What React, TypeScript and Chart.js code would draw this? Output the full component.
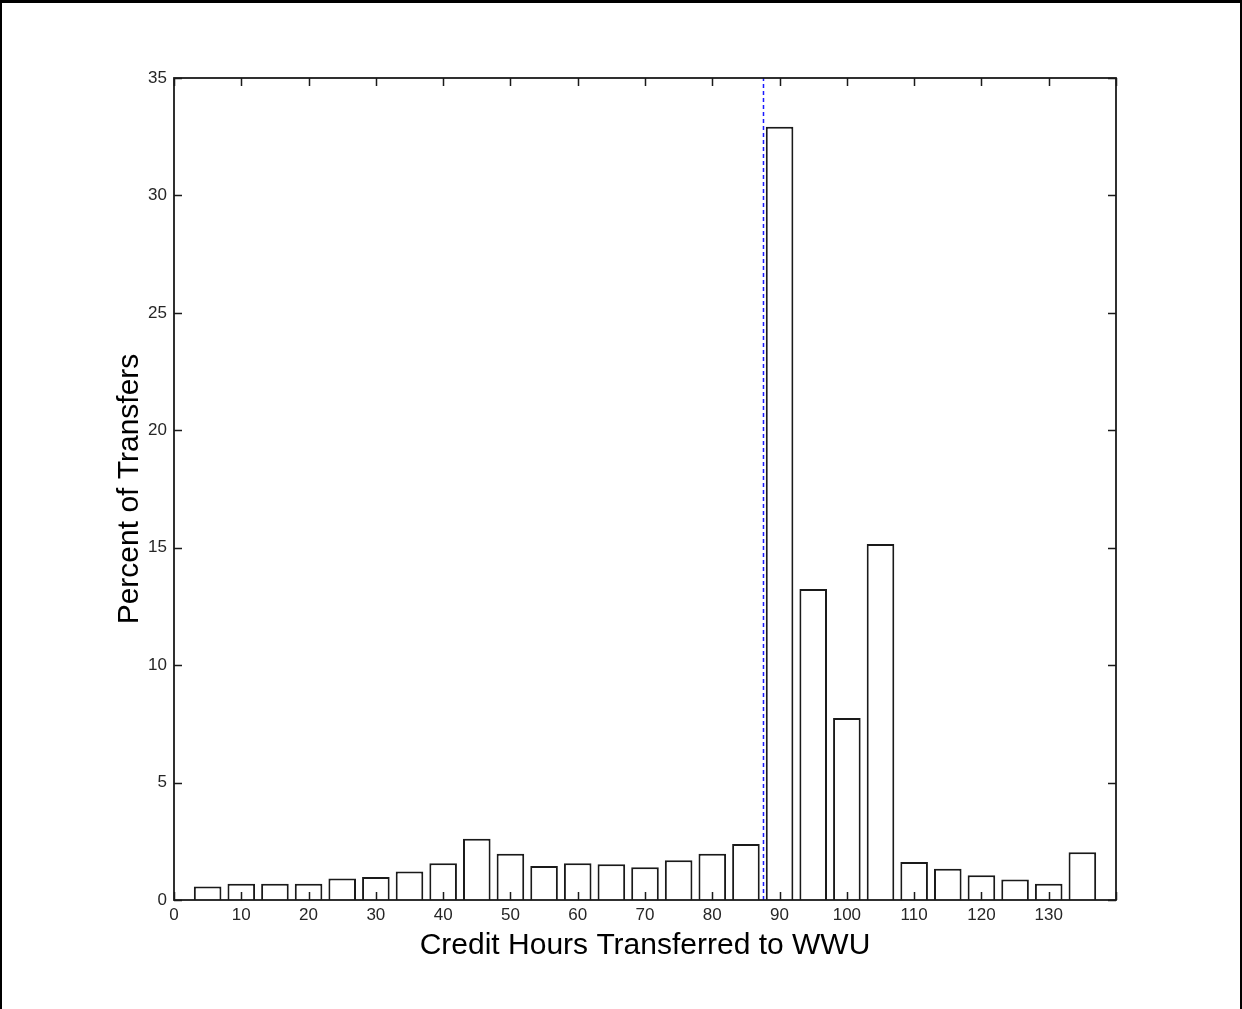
import { useEffect, useRef } from "react";
import { Chart, registerables } from "chart.js";

Chart.register(...registerables);

// Histogram bins (centre of each 5-credit bin) and share of transfers in each bin
const binCenters = [
  5, 10, 15, 20, 25, 30, 35, 40, 45, 50, 55, 60, 65, 70, 75, 80, 85, 90, 95,
  100, 105, 110, 115, 120, 125, 130, 135,
];
const percentOfTransfers = [
  0.57, 0.69, 0.69, 0.69, 0.92, 0.98, 1.21, 1.56, 2.61, 1.97, 1.45, 1.56, 1.52,
  1.39, 1.69, 1.97, 2.38, 32.92, 13.24, 7.75, 15.16, 1.62, 1.33, 1.05, 0.87,
  0.69, 2.03,
];

// Vertical reference line (credit-hour cutoff)
const cutoffHours = 87.61;

// Axis ranges and tick steps
const xRange = [0, 140];
const xTickStep = 10;
const yRange = [0, 35];
const yTickStep = 5;

const xTitle = "Credit Hours Transferred to WWU";
const yTitle = "Percent of Transfers";

const FONT = "'Liberation Sans', Arial, Helvetica, sans-serif";
const INK = "#1a1a1a";

// MATLAB-style axes: closed box with inward tick marks on all four sides
const boxAxesPlugin = {
  id: "boxAxes",
  afterDatasetsDraw(chart: any) {
    const { ctx, chartArea, scales } = chart;
    const { left, right, top, bottom } = chartArea;
    const tickLen = 8;
    ctx.save();
    ctx.strokeStyle = INK;
    ctx.lineWidth = 1.5;
    ctx.beginPath();
    for (let v = xRange[0]; v <= xRange[1]; v += xTickStep) {
      const px = Math.round(scales.x.getPixelForValue(v)) + 0.5;
      ctx.moveTo(px, bottom);
      ctx.lineTo(px, bottom - tickLen);
      ctx.moveTo(px, top);
      ctx.lineTo(px, top + tickLen);
    }
    for (let v = yRange[0]; v <= yRange[1]; v += yTickStep) {
      const py = Math.round(scales.y.getPixelForValue(v)) + 0.5;
      ctx.moveTo(left, py);
      ctx.lineTo(left + tickLen, py);
      ctx.moveTo(right, py);
      ctx.lineTo(right - tickLen, py);
    }
    ctx.stroke();
    ctx.lineWidth = 1.8;
    ctx.strokeRect(left, top, right - left, bottom - top);
    ctx.restore();
  },
};

export default function App() {
  const canvasRef = useRef<HTMLCanvasElement | null>(null);

  useEffect(() => {
    const canvas = canvasRef.current;
    if (!canvas) return;
    const chart = new Chart(canvas, {
      type: "bar",
      data: {
        datasets: [
          {
            type: "bar",
            data: binCenters.map((x, i) => ({ x, y: percentOfTransfers[i] })),
            backgroundColor: "#ffffff",
            borderColor: INK,
            borderWidth: 2,
            borderSkipped: "start",
            barPercentage: 0.82,
            categoryPercentage: 1,
          },
          {
            type: "line",
            data: [
              { x: cutoffHours, y: yRange[0] },
              { x: cutoffHours, y: yRange[1] },
            ],
            borderColor: "#1a1aff",
            borderWidth: 1.5,
            borderDash: [4, 3],
            pointRadius: 0,
            fill: false,
          },
        ],
      } as any,
      options: {
        responsive: false,
        animation: false,
        devicePixelRatio: 1,
        layout: { padding: { left: 0, top: 78, right: 126, bottom: 0 } },
        plugins: {
          legend: { display: false },
          tooltip: { enabled: false },
        },
        scales: {
          x: {
            type: "linear",
            min: xRange[0],
            max: xRange[1],
            offset: false,
            grid: { display: false, drawTicks: false },
            border: { display: false },
            ticks: {
              stepSize: xTickStep,
              autoSkip: false,
              maxRotation: 0,
              padding: 5,
              color: "#262626",
              font: { family: FONT, size: 17 },
              callback: (v: any) => (v === xRange[1] ? "" : String(v)),
            },
            title: {
              display: true,
              text: xTitle,
              color: "#000",
              font: { family: FONT, size: 30 },
              padding: { top: 0, bottom: 45 },
            },
            afterFit: (s: any) => {
              s.height = 109;
            },
          },
          y: {
            type: "linear",
            min: yRange[0],
            max: yRange[1],
            grid: { display: false, drawTicks: false },
            border: { display: false },
            ticks: {
              stepSize: yTickStep,
              padding: 7,
              color: "#262626",
              font: { family: FONT, size: 17 },
            },
            title: {
              display: true,
              text: yTitle,
              color: "#000",
              font: { family: FONT, size: 30 },
              padding: { top: 112, bottom: 0 },
            },
            afterFit: (s: any) => {
              s.width = 174;
            },
          },
        },
      } as any,
      plugins: [boxAxesPlugin],
    });
    return () => chart.destroy();
  }, []);

  return (
    <div
      style={{
        position: "absolute",
        left: 0,
        top: 0,
        width: 1242,
        height: 1009,
        background: "#fff",
      }}
    >
      <div
        style={{
          position: "absolute",
          inset: 0,
          boxSizing: "border-box",
          borderTop: "3px solid #000",
          borderLeft: "2px solid #000",
          borderRight: "2px solid #000",
        }}
      />
      <canvas
        ref={canvasRef}
        width={1242}
        height={1009}
        style={{ position: "absolute", left: 0, top: 0 }}
      />
    </div>
  );
}
